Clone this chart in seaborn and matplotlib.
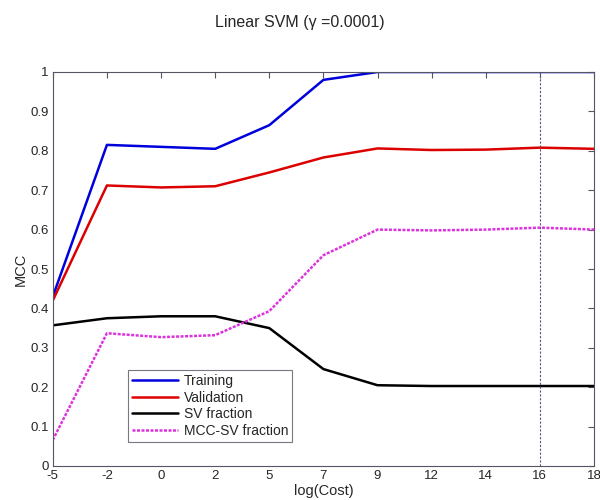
import numpy as np
import pandas as pd
import matplotlib
matplotlib.use("Agg")
import matplotlib.pyplot as plt
import seaborn as sns

# --- Data ---
cost_labels = ["-5", "-2", "0", "2", "5", "7", "9", "12", "14", "16", "18"]
training = [0.43, 0.815, 0.81, 0.805, 0.865, 0.98, 1.0, 1.0, 1.0, 1.0, 1.0]
validation = [0.42, 0.712, 0.707, 0.71, 0.745, 0.783, 0.806, 0.802, 0.803, 0.808, 0.805]
sv_fraction = [0.357, 0.375, 0.38, 0.38, 0.35, 0.246, 0.205, 0.203, 0.203, 0.203, 0.203]
mcc_sv_fraction = [0.066, 0.337, 0.327, 0.332, 0.393, 0.535, 0.6, 0.598, 0.6, 0.605, 0.6]
marked_cost = "16"

sns.set_style("white")
plt.rcParams["font.family"] = ["Liberation Sans", "DejaVu Sans"]

pos = np.arange(len(cost_labels))
df = pd.DataFrame({
    "pos": pos,
    "Training": training,
    "Validation": validation,
    "SV fraction": sv_fraction,
    "MCC-SV fraction": mcc_sv_fraction,
})

fig = plt.figure(figsize=(6, 5), dpi=100)
ax = fig.add_axes([0.088, 0.068, 0.902, 0.788])

sns.lineplot(data=df, x="pos", y="Training", color="#0000dd", lw=1.8, label="Training", ax=ax)
sns.lineplot(data=df, x="pos", y="Validation", color="#dd0000", lw=1.8, label="Validation", ax=ax)
sns.lineplot(data=df, x="pos", y="SV fraction", color="black", lw=1.8, label="SV fraction", ax=ax)
sns.lineplot(data=df, x="pos", y="MCC-SV fraction", color="#dd33dd", lw=1.8,
             linestyle=(0, (1.2, 0.6)), label="MCC-SV fraction", ax=ax)

# dotted marker line at the chosen cost
ax.axvline(cost_labels.index(marked_cost), color="#555577", lw=0.8, linestyle=(0, (2, 1.5)))

ax.set_xlim(0, len(cost_labels) - 1)
ax.set_ylim(0, 1)
ax.set_xticks(pos)
ax.set_xticklabels(cost_labels)
ax.set_yticks(np.arange(0, 1.01, 0.1))
ax.set_yticklabels(["0", "0.1", "0.2", "0.3", "0.4", "0.5", "0.6", "0.7", "0.8", "0.9", "1"])
ax.tick_params(direction="in", length=4, labelsize=9.5, top=True, right=True,
               color="#555566", pad=3)
for s in ax.spines.values():
    s.set_color("#555566")
    s.set_linewidth(0.8)

ax.set_xlabel("log(Cost)", fontsize=10.5, labelpad=1)
ax.set_ylabel("MCC", fontsize=10.5, labelpad=2)
fig.text(0.5, 0.955, "Linear SVM (\u03b3 =0.0001)", ha="center", va="center", fontsize=11.5)

leg = ax.legend(loc="lower left", bbox_to_anchor=(0.139, 0.061), fontsize=10,
                frameon=True, fancybox=False, borderpad=0.3, labelspacing=0.18,
                handlelength=3.3, handletextpad=0.4, borderaxespad=0)
leg.get_frame().set_edgecolor("#555566")
leg.get_frame().set_linewidth(0.8)

fig.savefig("out.png", dpi=100)
